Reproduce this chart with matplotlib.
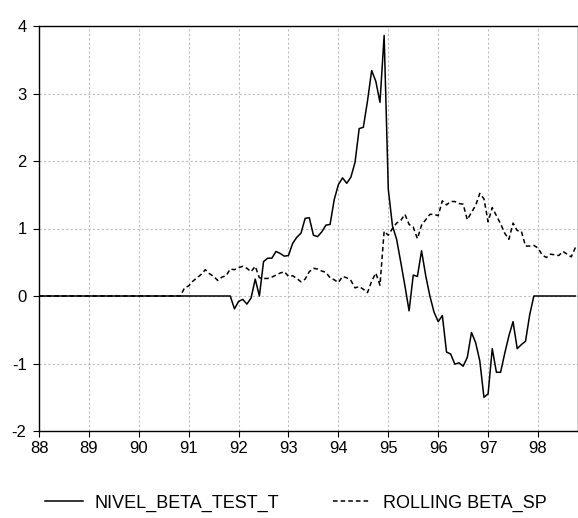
import matplotlib
matplotlib.use("Agg")
import matplotlib.pyplot as plt

plt.rcParams['font.family'] = ['Liberation Sans', 'DejaVu Sans']

# monthly observations 1988:01 - 1998:10
year_labels = ['88', '89', '90', '91', '92', '93', '94', '95', '96', '97', '98']

nivel_beta = [0.0] * 47 + [
    -0.19, -0.08, -0.05, -0.12, -0.03, 0.25, 0.0, 0.51, 0.56, 0.56, 0.66, 0.63, 0.59,
    0.6, 0.78, 0.87, 0.93, 1.15, 1.16, 0.9, 0.88, 0.95, 1.05, 1.06, 1.43,
    1.65, 1.75, 1.67, 1.76, 1.98, 2.48, 2.5, 2.89, 3.34, 3.18, 2.87, 3.86,
    1.58, 1.04, 0.84, 0.5, 0.15, -0.22, 0.31, 0.29, 0.67, 0.3, 0.0, -0.24,
    -0.38, -0.29, -0.83, -0.86, -1.01, -0.99, -1.04, -0.91, -0.54, -0.69, -0.96, -1.5,
    -1.45, -0.78, -1.13, -1.13, -0.85, -0.59, -0.38, -0.78, -0.72, -0.67, -0.28,
] + [0.0] * 11

rolling_beta = [0.0] * 35 + [
    0.12, 0.15, 0.22, 0.27, 0.32, 0.39, 0.33, 0.29, 0.23, 0.28, 0.3, 0.4, 0.39,
    0.42, 0.44, 0.41, 0.36, 0.44, 0.27, 0.26, 0.26, 0.28, 0.31, 0.34, 0.36,
    0.29, 0.3, 0.26, 0.21, 0.25, 0.36, 0.41, 0.4, 0.37, 0.35, 0.27, 0.24,
    0.2, 0.29, 0.27, 0.23, 0.12, 0.14, 0.1, 0.05, 0.22, 0.34, 0.16, 0.96,
    0.9, 1.0, 1.08, 1.12, 1.21, 1.06, 1.02, 0.85, 1.05, 1.13, 1.21, 1.21,
    1.19, 1.41, 1.35, 1.4, 1.4, 1.37, 1.36, 1.13, 1.24, 1.34, 1.52, 1.44,
    1.1, 1.31, 1.19, 1.07, 0.93, 0.84, 1.08, 0.97, 0.96, 0.74, 0.74, 0.75,
    0.71, 0.61, 0.57, 0.62, 0.61, 0.6, 0.66, 0.62, 0.58, 0.72,
]

months = list(range(len(nivel_beta)))

fig = plt.figure(figsize=(5.78, 5.18), dpi=100)
ax = fig.add_axes([39 / 578, 1 - 431 / 518, 538.5 / 578, 405 / 518])

ax.plot(months, nivel_beta, color='black', lw=1.1, label='NIVEL_BETA_TEST_T')
ax.plot(months, rolling_beta, color='black', lw=1.1, dashes=(3, 2),
        label='ROLLING BETA_SP')

ax.set_xlim(0, 129.5)
ax.set_ylim(-2, 4)
ax.set_xticks(range(0, 121, 12))
ax.set_xticklabels(year_labels)
ax.set_yticks(range(-2, 5))
ax.set_yticklabels(['-2', '-1', '0', '1', '2', '3', '4'])

ax.grid(True, color='#bcbcbc', linestyle=(0, (2, 2)), lw=0.8)
ax.set_axisbelow(True)
for sp in ax.spines.values():
    sp.set_linewidth(1.0)
ax.tick_params(direction='out', length=4, width=0.8, labelsize=12, colors='black')
ax.tick_params(axis='y', pad=5)
ax.tick_params(axis='x', pad=3)

fig.legend(loc='center left', bbox_to_anchor=(45 / 578, 1 - 503 / 518),
           ncol=2, frameon=False, fontsize=13, borderpad=0, borderaxespad=0,
           handlelength=2.1, handletextpad=0.65, columnspacing=3.0)

fig.savefig('out.png', dpi=100)
